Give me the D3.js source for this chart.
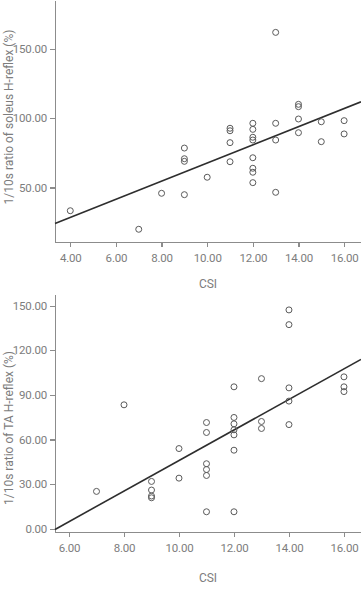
<!doctype html>
<html>
<head>
    <meta charset="utf-8"/>
    <style>
        html, body {
            margin: 0;
            padding: 0;
            background: #fff;
        }
        svg {
            display: block;
        }
        .axis path, .axis line {
            fill: none;
            stroke: #8c8c8c;
            stroke-width: 1.2;
            shape-rendering: crispEdges;
        }
        .axis text {
            font: 11.5px Roboto, "Liberation Sans", sans-serif;
            letter-spacing: -0.2px;
            fill: #7d7d7d;
        }
        .title {
            font: 12px Roboto, "Liberation Sans", sans-serif;
            fill: #7d7d7d;
        }
        .dot {
            fill: none;
            stroke: #5a5a5a;
            stroke-width: 1;
        }
        .fit {
            stroke: #2e2e2e;
            stroke-width: 1.6;
            fill: none;
        }
    </style>
    <script src="https://d3js.org/d3.v7.min.js"></script>
</head>
<body>
<svg width="361" height="597"></svg>

<script>
    // soleus panel: CSI score vs 1/10s ratio (%)
    var soleusCsi = [4, 7, 8, 9, 9, 9, 9, 10, 11, 11, 11, 11,
        12, 12, 12, 12, 12, 12, 12, 12, 13, 13, 13, 13,
        14, 14, 14, 14, 15, 15, 16, 16];
    var soleusRatio = [33.2, 19.8, 45.8, 78.5, 70.8, 68.9, 44.8, 57.4, 92.8, 91.0, 82.4, 68.6,
        96.4, 92.0, 86.3, 84.3, 71.5, 63.9, 61.0, 53.5, 162.1, 96.4, 84.3, 46.5,
        110.1, 108.4, 99.5, 89.6, 97.5, 83.1, 98.3, 88.7];
    var soleusXTicks = [4, 6, 8, 10, 12, 14, 16];
    var soleusYTicks = [50, 100, 150];

    // TA panel
    var taCsi = [7, 8, 9, 9, 9, 9, 10, 10, 11, 11, 11, 11, 11, 11,
        12, 12, 12, 12, 12, 12, 12, 13, 13, 13, 14, 14, 14, 14, 14, 16, 16, 16];
    var taRatio = [25.1, 83.3, 31.8, 26.0, 22.0, 20.8, 53.9, 34.0, 71.4, 64.7, 43.7, 39.8, 35.8, 11.4,
        95.4, 74.8, 70.5, 66.5, 63.1, 52.8, 11.4, 100.9, 72.1, 67.4, 147.1, 137.2, 94.7, 85.8, 70.0,
        102.1, 95.4, 92.2];
    var taXTicks = [6, 8, 10, 12, 14, 16];
    var taYTicks = [0, 30, 60, 90, 120, 150];

    var svg = d3.select("svg");
    var fmt = d3.format(".2f");

    function drawPanel(opts) {
        var g = svg.append("g");
        var x = d3.scaleLinear().domain(opts.xDomain).range([opts.left, opts.right]);
        var y = d3.scaleLinear().domain(opts.yDomain).range([opts.bottom, opts.top]);

        g.append("g")
            .attr("class", "axis")
            .attr("transform", "translate(0," + opts.bottom + ")")
            .call(d3.axisBottom(x).tickValues(opts.xTicks).tickFormat(fmt).tickSize(5).tickSizeOuter(0).tickPadding(7));

        g.append("g")
            .attr("class", "axis")
            .attr("transform", "translate(" + opts.left + ",0)")
            .call(d3.axisLeft(y).tickValues(opts.yTicks).tickFormat(fmt).tickSize(5).tickSizeOuter(0).tickPadding(3));

        // least squares fit through the points
        var pts = opts.xs.map(function(v, i) { return [v, opts.ys[i]]; });
        var mx = d3.mean(pts, function(d) { return d[0]; });
        var my = d3.mean(pts, function(d) { return d[1]; });
        var sxy = d3.sum(pts, function(d) { return (d[0] - mx) * (d[1] - my); });
        var sxx = d3.sum(pts, function(d) { return (d[0] - mx) * (d[0] - mx); });
        var b = sxy / sxx, a = my - b * mx;
        var x0 = opts.xDomain[0], x1 = opts.xDomain[1];

        g.append("line")
            .attr("class", "fit")
            .attr("x1", x(x0)).attr("y1", y(a + b * x0))
            .attr("x2", x(x1)).attr("y2", y(a + b * x1));

        g.append("g").selectAll("circle")
            .data(pts).enter().append("circle")
            .attr("class", "dot")
            .attr("r", 3)
            .attr("cx", function(d) { return x(d[0]); })
            .attr("cy", function(d) { return y(d[1]); });

        g.append("text")
            .attr("class", "title")
            .attr("text-anchor", "middle")
            .attr("x", (opts.left + opts.right) / 2)
            .attr("y", opts.xTitleY)
            .text("CSI");

        g.append("text")
            .attr("class", "title")
            .attr("text-anchor", "middle")
            .attr("transform", "translate(" + opts.yTitleX + "," + opts.yTitleY + ") rotate(-90)")
            .text(opts.yTitle);
    }

    drawPanel({
        xs: soleusCsi, ys: soleusRatio,
        xDomain: [3.33, 16.74], yDomain: [10.6, 185.5],
        xTicks: soleusXTicks, yTicks: soleusYTicks,
        left: 55, right: 361, top: 0, bottom: 242,
        xTitleY: 288, yTitleX: 13, yTitleY: 117,
        yTitle: "1/10s ratio of soleus H-reflex (%)"
    });

    drawPanel({
        xs: taCsi, ys: taRatio,
        xDomain: [5.49, 16.62], yDomain: [-2.2, 157.8],
        xTicks: taXTicks, yTicks: taYTicks,
        left: 55, right: 361, top: 294, bottom: 532,
        xTitleY: 582, yTitleX: 13, yTitleY: 428,
        yTitle: "1/10s ratio of TA H-reflex (%)"
    });
</script>
</body>
</html>
